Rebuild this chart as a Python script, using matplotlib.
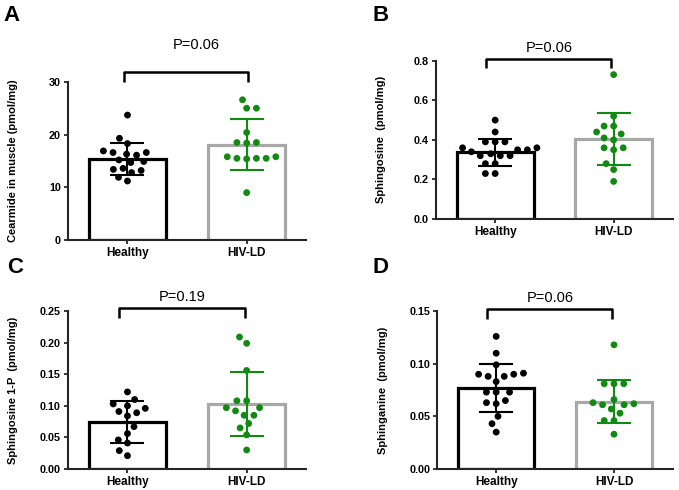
import matplotlib
matplotlib.use("Agg")
import matplotlib.pyplot as plt
import seaborn as sns
import pandas as pd

plt.rcParams['font.family'] = ['Liberation Sans', 'DejaVu Sans']

groups = ['Healthy', 'HIV-LD']

# A - ceramide
cer_healthy = [23.7, 19.3, 18.3, 16.6, 16.1, 16.9, 16.3, 16.6, 15.2, 14.9, 14.7,
               13.6, 13.4, 13.2, 12.8, 11.9, 11.2]
cer_hiv = [26.6, 25.0, 25.0, 20.4, 18.5, 18.4, 18.5, 15.8, 15.5, 15.5, 15.4,
           15.5, 15.8, 9.0]
cer_mean = [15.4, 18.1]
cer_sd = [3.1, 4.8]

# B - sphingosine
sph_healthy = [0.50, 0.44, 0.39, 0.39, 0.39, 0.36, 0.35, 0.35, 0.36, 0.34, 0.32,
               0.32, 0.32, 0.33, 0.28, 0.28, 0.23, 0.23]
sph_hiv = [0.73, 0.52, 0.47, 0.47, 0.44, 0.43, 0.41, 0.40, 0.36, 0.36, 0.35,
           0.28, 0.25, 0.19]
sph_mean = [0.338, 0.404]
sph_sd = [0.069, 0.13]

# C - sphingosine 1-P
s1p_healthy = [0.122, 0.110, 0.103, 0.096, 0.100, 0.089, 0.091, 0.084, 0.067,
               0.056, 0.046, 0.041, 0.029, 0.021]
s1p_hiv = [0.209, 0.199, 0.156, 0.108, 0.108, 0.097, 0.097, 0.092, 0.085, 0.085,
           0.072, 0.065, 0.054, 0.030]
s1p_mean = [0.074, 0.103]
s1p_sd = [0.033, 0.051]

# D - sphinganine
sa_healthy = [0.126, 0.110, 0.099, 0.090, 0.088, 0.083, 0.088, 0.090, 0.091,
              0.073, 0.073, 0.073, 0.065, 0.062, 0.063, 0.050, 0.043, 0.035]
sa_hiv = [0.118, 0.081, 0.081, 0.081, 0.066, 0.063, 0.061, 0.062, 0.061, 0.057,
          0.053, 0.046, 0.046, 0.033]
sa_mean = [0.077, 0.064]
sa_sd = [0.023, 0.0205]

BLACK = '#000000'
GREY = '#a8a8a8'
GREEN = '#118a11'
AXIS = '#262626'

swarms = []


def panel(ax, healthy, hiv, mean, sd, ymax, yticks, yfmt, ylabel, ptext,
          br_y, br_leg, br_x, p_y, p_x):
    df = pd.DataFrame({'group': ['Healthy'] * len(healthy) + ['HIV-LD'] * len(hiv),
                       'value': healthy + hiv})
    ax.bar([0, 1], mean, width=0.65, color='white', edgecolor=[BLACK, GREY],
           linewidth=2.3, zorder=1)
    for i, c in enumerate([BLACK, GREEN]):
        ax.errorbar(i, mean[i], yerr=sd[i], color=c, capsize=12, elinewidth=1.5,
                    capthick=1.5, zorder=2)
    before = list(ax.collections)
    # swarm laid out with a bigger spacing, dots shrunk after layout (gaps like GraphPad)
    sns.swarmplot(data=df, x='group', y='value', hue='group', order=groups,
                  palette={'Healthy': BLACK, 'HIV-LD': GREEN}, size=6.7,
                  legend=False, ax=ax, zorder=3)
    swarms.extend([c for c in ax.collections if c not in before])
    ax.set_xlim(-0.5, 1.5)
    ax.set_ylim(0, ymax)
    ax.set_yticks(yticks)
    ax.set_yticklabels([yfmt.format(t) for t in yticks], fontsize=7.8, fontweight='bold')
    ax.set_xticks([0, 1])
    ax.set_xticklabels(groups, fontsize=8.5, fontweight='bold')
    ax.set_xlabel('')
    ax.set_ylabel(ylabel, fontsize=8, fontweight='bold')
    ax.yaxis.set_label_coords(-0.21, 0.5)
    for s in ['top', 'right']:
        ax.spines[s].set_visible(False)
    for s in ['left', 'bottom']:
        ax.spines[s].set_color(AXIS)
        ax.spines[s].set_linewidth(1.5)
    ax.tick_params(axis='both', direction='out', length=3, width=1.3, color=AXIS, pad=2)
    # significance bracket
    ax.plot([br_x[0], br_x[0], br_x[1], br_x[1]], [br_leg, br_y, br_y, br_leg],
            color=BLACK, lw=1.8, clip_on=False, solid_capstyle='butt')
    ax.text(p_x, p_y, ptext, ha='center', va='center', fontsize=10.5, clip_on=False)


fig = plt.figure(figsize=(6.79, 4.9), dpi=100)
axA = fig.add_axes([0.100, 0.510, 0.351, 0.323])
axB = fig.add_axes([0.642, 0.553, 0.349, 0.323])
axC = fig.add_axes([0.100, 0.043, 0.351, 0.322])
axD = fig.add_axes([0.644, 0.043, 0.347, 0.322])

panel(axA, cer_healthy, cer_hiv, cer_mean, cer_sd, 30, [0, 10, 20, 30], '{:.0f}',
      'Cearmide in muscle (pmol/mg)', 'P=0.06', 31.9, 30.0, (-0.03, 1.01), 37.0, 0.58)
panel(axB, sph_healthy, sph_hiv, sph_mean, sph_sd, 0.8, [0, 0.2, 0.4, 0.6, 0.8], '{:.1f}',
      'Sphingosine  (pmol/mg)', 'P=0.06', 0.81, 0.765, (-0.08, 0.98), 0.866, 0.46)
panel(axC, s1p_healthy, s1p_hiv, s1p_mean, s1p_sd, 0.25, [0, 0.05, 0.10, 0.15, 0.20, 0.25],
      '{:.2f}', 'Sphingosine 1-P  (pmol/mg)', 'P=0.19', 0.255, 0.239, (-0.07, 0.99), 0.273, 0.46)
panel(axD, sa_healthy, sa_hiv, sa_mean, sa_sd, 0.15, [0, 0.05, 0.10, 0.15], '{:.2f}',
      'Sphinganine  (pmol/mg)', 'P=0.06', 0.152, 0.143, (-0.08, 0.98), 0.1626, 0.46)

for letter, x, y in [('A', 3, 5), ('B', 372, 5), ('C', 7, 257), ('D', 372, 257)]:
    fig.text(x / 679, 1 - y / 490, letter, fontsize=16, fontweight='bold',
             ha='left', va='top')

# run the swarm layout once, then freeze it and draw smaller dots
fig.canvas.draw()
for c in swarms:
    c.__dict__.pop('draw', None)
    c.set_sizes([4.9 ** 2])

fig.savefig('out.png', dpi=100)
